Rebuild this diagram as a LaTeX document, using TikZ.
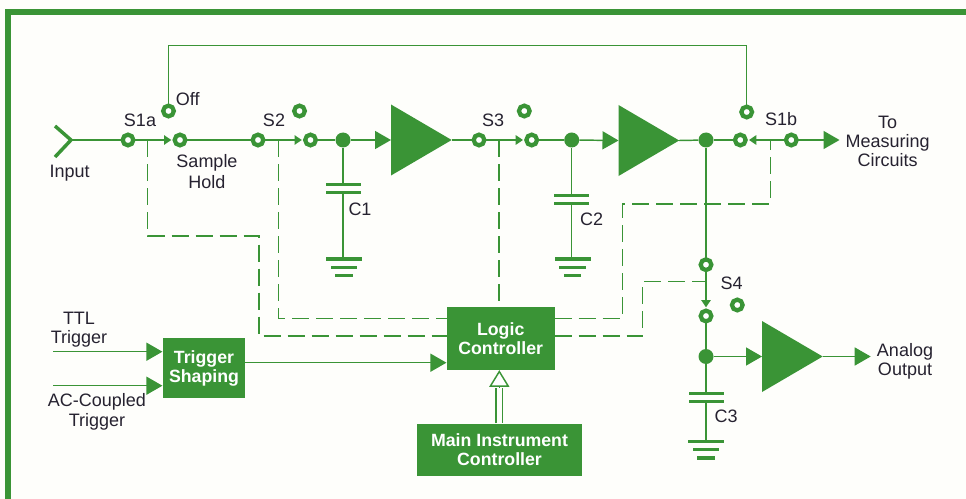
\documentclass[tikz,border=0pt]{standalone}
\usepackage{fontspec}
\setmainfont{Liberation Sans}
\usetikzlibrary{arrows.meta,shapes.geometric}
\definecolor{hpgreen}{RGB}{58,148,54}
\definecolor{paper}{RGB}{254,254,251}
\definecolor{ink}{RGB}{38,34,48}

\begin{document}
\begin{tikzpicture}[x=0.75pt,y=-0.75pt,
    wire/.style={hpgreen,line width=1.1pt},
    ctrl/.style={hpgreen,line width=0.95pt,dash pattern=on 12.75pt off 5.25pt},
    arm/.style={hpgreen,line width=2pt,shorten >=1.5pt,-{Triangle[length=5.5pt,width=7pt]}},
    bigtip/.style={wire,-{Triangle[length=12pt,width=13.5pt]}},
    term/.style={circle,draw=hpgreen,fill=white,line width=3.2pt,minimum size=8pt,inner sep=0pt,outer sep=1pt},
    dotnode/.style={circle,fill=hpgreen,minimum size=11.25pt,inner sep=0pt},
    amp/.style={isosceles triangle,isosceles triangle stretches,fill=hpgreen,inner sep=0pt,outer sep=0pt,minimum width=53.25pt,minimum height=45.5pt,anchor=lower side},
    block/.style={fill=hpgreen,text=white,align=center,inner sep=0pt,font=\fontsize{13.3}{14.2}\selectfont\bfseries},
    plate/.style={fill=hpgreen,inner sep=0pt,outer sep=0pt,minimum width=26.25pt,minimum height=2.5pt},
    gnda/.style={plate,minimum width=27pt},
    gndb/.style={plate,minimum width=20pt},
    gndc/.style={plate,minimum width=13pt},
    label/.style={text=ink,align=center,inner sep=0pt,font=\fontsize{13.5}{14.2}\selectfont}]
    \useasboundingbox (0,0) rectangle (966,499);
    \fill[paper] (0,0) rectangle (966,499);

    % Frame
    \draw[hpgreen,line width=4.6pt] (966,12) -- (8.3,12) -- (8.3,499);

    % Amplifiers
    \node[amp] (amp1) at (391,140) {};
    \node[amp] (amp2) at (618.5,140.5) {};
    \node[amp] (amp3) at (762,356.5) {};

    % Blocks
    \node[block,minimum width=62pt,minimum height=45pt] (shaping) at (204,368.3) {Trigger\\Shaping};
    \node[block,minimum width=81pt,minimum height=47pt] (logic) at (500.7,338.5) {Logic\\Controller};
    \node[block,minimum width=124.2pt,minimum height=39pt] (mainctl) at (499.5,449.7) {Main Instrument\\Controller};

    % Switch contacts
    \coordinate (in) at (71,140);
    \node[term] (s1a) at (128,140) {};
    \node[term] (s1off) at (168.5,111) {};
    \node[term] (s1on) at (180,140) {};
    \node[term] (s2a) at (258,140) {};
    \node[term] (s2off) at (299.5,111) {};
    \node[term] (s2on) at (310.5,140) {};
    \node[term] (s3a) at (479,140) {};
    \node[term] (s3off) at (524.3,111) {};
    \node[term] (s3on) at (531.7,140) {};
    \node[term] (s1bon) at (740.3,140) {};
    \node[term] (s1boff) at (746.7,112) {};
    \node[term] (s1bp) at (791.3,140) {};
    \node[term] (s4a) at (706,264.7) {};
    \node[term] (s4off) at (737.3,305) {};
    \node[term] (s4on) at (706,316) {};

    % Junctions
    \node[dotnode] (dot1) at (343,140) {};
    \node[dotnode] (dot2) at (571.7,140) {};
    \node[dotnode] (dot3) at (706,140) {};
    \node[dotnode] (dot4) at (706,356.5) {};

    % Capacitors and grounds
    \node[plate] (c1a) at (343,184.5) {};
    \node[plate] (c1b) at (343,192.7) {};
    \node[gnda] (g1a) at (344,259) {};
    \node[gndb] (g1b) at (344,267.3) {};
    \node[gndc] (g1c) at (344,275.7) {};
    \node[plate] (c2a) at (571.7,195.3) {};
    \node[plate] (c2b) at (571.7,203.5) {};
    \node[gnda] (g2a) at (572.5,259) {};
    \node[gndb] (g2b) at (572.5,267.3) {};
    \node[gndc] (g2c) at (572.5,275.7) {};
    \node[plate] (c3a) at (706,393.3) {};
    \node[plate] (c3b) at (706,401.7) {};
    \node[gnda] (g3a) at (706,441.3) {};
    \node[gndb] (g3b) at (706,449.7) {};
    \node[gndc] (g3c) at (706,458) {};

    % Signal path
    \draw[hpgreen,line width=2.6pt] (55,126) -- (in) -- (55,157);
    \draw[wire] (in) -- (s1a);
    \draw[wire] (s1on) -- (s2a);
    \draw[wire] (s2on) -- (dot1);
    \draw[bigtip] (dot1) -- (amp1.lower side);
    \draw[wire] (amp1.apex) -- (s3a);
    \draw[wire] (s3on) -- (dot2);
    \draw[bigtip] (dot2) -- (amp2.lower side);
    \draw[wire] (amp2.apex) -- (dot3);
    \draw[wire] (dot3) -- (s1bon);
    \coordinate (out1) at (839.5,140);
    \draw[bigtip] (s1bp) -- (out1);
    \draw[wire] (dot3) -- (s4a);
    \draw[wire] (s4on) -- (dot4);
    \draw[bigtip] (dot4) -- (amp3.lower side);
    \coordinate (out2) at (870.7,356.5);
    \draw[bigtip] (amp3.apex) -- (out2);
    \draw[wire] (s1off) |- (408,45.7) -| (s1boff);

    % Capacitor leads
    \draw[wire] (dot1) -- (c1a);
    \draw[wire] (c1b) -- (c1b |- g1a);
    \draw[wire] (dot2) -- (c2a);
    \draw[wire] (c2b) -- (c2b |- g2a);
    \draw[wire] (dot4) -- (c3a);
    \draw[wire] (c3b) -- (g3a);

    % Switch arms
    \draw[arm] (s1a) -- (s1on);
    \draw[arm] (s2a) -- (s2on);
    \draw[arm] (s3a) -- (s3on);
    \draw[arm] (s1bp) -- (s1bon);
    \draw[arm] (s4a) -- (s4on);

    % Trigger inputs
    \coordinate (ttl) at (53,351.7);
    \coordinate (acc) at (53,385.7);
    \draw[bigtip] (ttl) -- (ttl -| shaping.west);
    \draw[bigtip] (acc) -- (acc -| shaping.west);
    \coordinate (shout) at (245.3,362.7);
    \draw[bigtip] (shout) -- (shout -| logic.west);

    % Hollow bus arrow
    \coordinate (busb) at (499.3,387.5);
    \draw[wire,double=paper,double distance=3.6pt] (busb |- mainctl.north) -- (busb);
    \draw[wire,line join=round,-{Triangle[open,length=12.5pt,width=15pt,fill=white]}] (busb) -- (busb |- logic.south);

    % Control lines
    \coordinate (s1am) at (147.7,140);
    \coordinate (s2am) at (278.5,140);
    \coordinate (s3am) at (499,140);
    \coordinate (s1bm) at (770.3,140);
    \coordinate (s4am) at (706,281.7);
    \coordinate (lw1) at (446.7,318.3);
    \coordinate (lw2) at (446.7,336);
    \coordinate (le1) at (554.7,318.3);
    \coordinate (le2) at (554.7,336);
    \draw[ctrl] (s1am) -- (147.7,236) -- (259,236) -- (259,336) -- (lw2);
    \draw[ctrl] (s2am) -- (278.5,318.3) -- (lw1);
    \draw[ctrl] (s3am) -- (s3am |- logic.north);
    \draw[ctrl] (le1) -- (622.3,318.3) -- (622.3,204) -- (770.3,204) -- (s1bm);
    \draw[ctrl] (le2) -- (642.3,336) -- (642.3,281.7) -- (s4am);

    % Labels
    \node[label] (linput) at (69.7,173) {Input};
    \node[label] (ls1a) at (140,120) {S1a};
    \node[label] (loff) at (187.7,99.3) {Off};
    \node[label] (lsample) at (207,171.5) {Sample\\[1.8pt]Hold};
    \node[label] (ls2) at (274,120) {S2};
    \node[label] (lc1) at (360,209) {C1};
    \node[label] (ls3) at (493,120) {S3};
    \node[label] (lc2) at (591.7,219) {C2};
    \node[label] (ls1b) at (781,119) {S1b};
    \node[label] (lmeas) at (887.7,141) {To\\Measuring\\Circuits};
    \node[label] (lttl) at (79,329.5) {TTL\\Trigger};
    \node[label] (lacc) at (97,411.5) {AC-Coupled\\[1pt]Trigger};
    \node[label] (ls4) at (731.7,283) {S4};
    \node[label] (lc3) at (726,416.7) {C3};
    \node[label] (lanalog) at (905,361.5) {Analog\\Output};
\end{tikzpicture}
\end{document}
